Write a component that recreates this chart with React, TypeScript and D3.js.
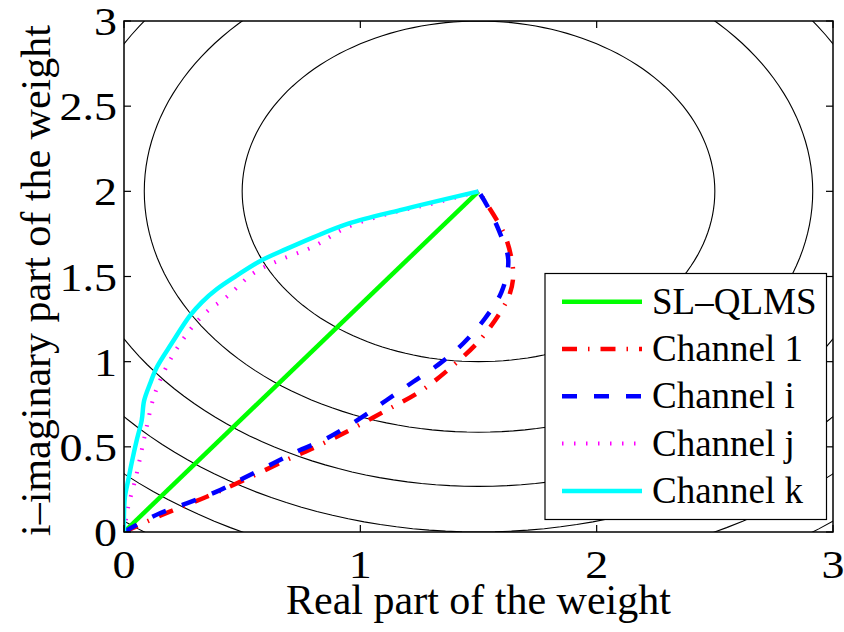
import * as d3 from "d3";

type Pt = [number, number];

const xTicks = [0, 1, 2, 3];
const yTicks = [0, 0.5, 1, 1.5, 2, 2.5, 3];

// cost surface: circles around the optimum weight
const optimum: Pt = [1.5, 2];
const contourLevels = [1, 2, 3, 4, 5, 6];

const slQlms: Pt[] = [[0, 0], [1.5, 2]];

const channel1: Pt[] = [
  [0, 0], [0.04, 0.025], [0.16, 0.1], [0.35, 0.207], [0.5, 0.3], [0.688, 0.423],
  [0.829, 0.511], [0.97, 0.609], [1.112, 0.716], [1.252, 0.824], [1.379, 0.961],
  [1.506, 1.127], [1.598, 1.303], [1.633, 1.401], [1.647, 1.519], [1.619, 1.714],
  [1.577, 1.832], [1.5, 2],
];

const channelI: Pt[] = [
  [0, 0], [0.039, 0.031], [0.152, 0.11], [0.265, 0.168], [0.392, 0.237], [0.505, 0.315],
  [0.632, 0.403], [0.745, 0.481], [0.858, 0.55], [0.999, 0.667], [1.112, 0.775],
  [1.224, 0.882], [1.337, 0.99], [1.436, 1.108], [1.528, 1.255], [1.598, 1.411],
  [1.626, 1.597], [1.591, 1.754], [1.535, 1.92], [1.5, 2],
];

const channelJ: Pt[] = [
  [0, 0], [0.018, 0.149], [0.05, 0.32], [0.075, 0.481], [0.096, 0.618], [0.131, 0.814],
  [0.195, 1.01], [0.279, 1.186], [0.35, 1.293], [0.435, 1.381], [0.547, 1.519],
  [0.66, 1.597], [0.801, 1.675], [0.942, 1.788], [1.15, 1.88], [1.281, 1.92], [1.5, 2],
];

const channelK: Pt[] = [
  [0, 0], [0, 0.11], [0.004, 0.207], [0.018, 0.305], [0.032, 0.403], [0.054, 0.54],
  [0.075, 0.657], [0.085, 0.77], [0.11, 0.87], [0.14, 0.97], [0.202, 1.108],
  [0.279, 1.27], [0.33, 1.35], [0.392, 1.425], [0.477, 1.505], [0.575, 1.59],
  [0.688, 1.662], [0.801, 1.73], [0.949, 1.81], [1.168, 1.89], [1.5, 2],
];

const series = [
  { name: "SL–QLMS", points: slQlms, color: "#00ff00", width: 4.5, dash: "" },
  { name: "Channel 1", points: channel1, color: "#ff0000", width: 4.5, dash: "15 11 1.5 11" },
  { name: "Channel i", points: channelI, color: "#0000ff", width: 4.5, dash: "15 17" },
  { name: "Channel j", points: channelJ, color: "#ff00ff", width: 4, dash: "1.5 10.5" },
  { name: "Channel k", points: channelK, color: "#00ffff", width: 4.5, dash: "" },
];

const FONT = "Liberation Serif";
const width = 844;
const height = 632;

export default function App() {
  const left = 124, right = 833, top = 21, bottom = 532;
  const x = d3.scaleLinear().domain([0, 3]).range([left, right]);
  const y = d3.scaleLinear().domain([0, 3]).range([bottom, top]);

  const angles = d3.range(0, 361, 2).map((a) => (a * Math.PI) / 180);
  const contourPaths = contourLevels.map((lvl) => {
    const r = Math.sqrt(lvl);
    return d3.line<number>()
      .x((a) => x(optimum[0] + r * Math.sin(a)))
      .y((a) => y(optimum[1] + r * Math.cos(a)))(angles) as string;
  });

  const line = d3.line<Pt>()
    .x((d) => x(d[0]))
    .y((d) => y(d[1]))
    .curve(d3.curveCatmullRom.alpha(0.5));

  const tl = 7;
  const tickText = { fontFamily: FONT, fontSize: "40px" };

  return (
    <svg width={width} height={height} style={{ position: "absolute", left: 0, top: 0 }}>
      <rect width={width} height={height} fill="#fff" />
      <defs>
        <clipPath id="plot-clip">
          <rect x={left} y={top} width={right - left} height={bottom - top} />
        </clipPath>
      </defs>
      <g clipPath="url(#plot-clip)">
        {contourPaths.map((d, i) => (
          <path key={i} d={d} fill="none" stroke="#000" strokeWidth={1.1} />
        ))}
        {series.map((s) => (
          <path
            key={s.name}
            d={line(s.points) as string}
            fill="none"
            stroke={s.color}
            strokeWidth={s.width}
            strokeDasharray={s.dash || undefined}
            strokeLinejoin="round"
          />
        ))}
      </g>

      <rect x={left} y={top} width={right - left} height={bottom - top}
        fill="none" stroke="#000" strokeWidth={1.5} />

      {xTicks.map((t) => (
        <g key={"x" + t}>
          <line x1={x(t)} x2={x(t)} y1={bottom} y2={bottom - tl} stroke="#000" strokeWidth={1.2} />
          <line x1={x(t)} x2={x(t)} y1={top} y2={top + tl} stroke="#000" strokeWidth={1.2} />
          <text transform={`translate(${x(t)},578) scale(1.15,1)`} textAnchor="middle" style={tickText}>
            {String(t)}
          </text>
        </g>
      ))}
      {yTicks.map((t) => (
        <g key={"y" + t}>
          <line x1={left} x2={left + tl} y1={y(t)} y2={y(t)} stroke="#000" strokeWidth={1.2} />
          <line x1={right} x2={right - tl} y1={y(t)} y2={y(t)} stroke="#000" strokeWidth={1.2} />
          <text transform={`translate(117,${y(t) + 14}) scale(1.15,1)`} textAnchor="end" style={tickText}>
            {String(t)}
          </text>
        </g>
      ))}

      <text x={(left + right) / 2} y={614} textAnchor="middle"
        style={{ fontFamily: FONT, fontSize: "42px" }}>
        Real part of the weight
      </text>
      <text transform={`translate(50,${(top + bottom) / 2 + 4}) rotate(-90)`} textAnchor="middle"
        style={{ fontFamily: FONT, fontSize: "42px" }}>
        i–imaginary part of the weight
      </text>

      <g>
        <rect x={545} y={273.5} width={281.5} height={246} fill="#fff" stroke="#000" strokeWidth={1.2} />
        {series.map((s, i) => {
          const cy = 301.7 + i * 47.3;
          return (
            <g key={s.name}>
              <line x1={562} x2={642} y1={cy} y2={cy} stroke={s.color} strokeWidth={s.width}
                strokeDasharray={s.dash || undefined} />
              <text x={652} y={cy + 12} style={{ fontFamily: FONT, fontSize: "37px" }}>
                {s.name}
              </text>
            </g>
          );
        })}
      </g>
    </svg>
  );
}
